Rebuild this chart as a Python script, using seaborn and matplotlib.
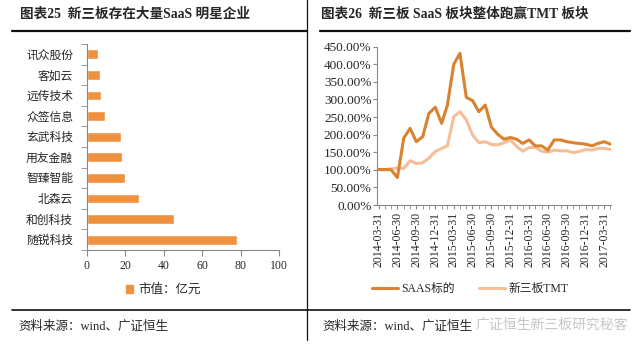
import pandas as pd
import matplotlib.pyplot as plt
import matplotlib.patches as mpatches
from matplotlib.lines import Line2D
import seaborn as sns

# left panel: market value of SaaS companies (100m yuan)
companies = ['讯众股份', '客如云', '远传技术', '众签信息', '玄武科技',
             '用友金融', '智臻智能', '北森云', '和创科技', '随锐科技']
market_value = [5.6, 6.6, 7.5, 9.4, 17.7, 18.2, 19.6, 27.1, 45.3, 78.1]

# right panel: index performance, monthly 2014-03-31 .. 2017-04-30
dates = pd.date_range('2014-03-31', periods=38, freq='ME')
saas = [101, 101, 100, 78, 190, 218, 180, 194, 260, 278, 232, 284, 400, 431,
        306, 297, 265, 284, 221, 201, 187, 192, 187, 175, 185, 168, 168, 156,
        185, 185, 180, 177, 175, 173, 168, 175, 180, 173]
tmt = [100, 100, 103, 105, 104, 126, 118, 120, 133, 152, 161, 168, 251, 265,
       242, 199, 177, 180, 172, 171, 177, 185, 166, 153, 163, 164, 153, 150,
       156, 154, 154, 149, 152, 158, 156, 161, 161, 158]

sns.set_style('white')
plt.rcParams['font.family'] = ['Liberation Serif', 'Noto Sans CJK SC']

fig = plt.figure(figsize=(6.4, 3.53), dpi=100)
W, H = 640, 353

def fx(px):
    return px / W

def fy(py):
    return 1 - py / H

#frame lines of the report page
black = '#111111'
fig.add_artist(Line2D([fx(12), fx(307)], [fy(31), fy(31)], color=black, lw=1.6))
fig.add_artist(Line2D([fx(320), fx(630)], [fy(31), fy(31)], color=black, lw=1.6))
fig.add_artist(Line2D([fx(12), fx(630)], [fy(310), fy(310)], color=black, lw=1.2))
fig.add_artist(Line2D([fx(307), fx(307)], [fy(0), fy(340)], color=black, lw=0.9))

fig.text(fx(20), fy(14), '图表25  新三板存在大量SaaS 明星企业', fontsize=9.8,
         fontweight='bold', va='center', ha='left')
fig.text(fx(321), fy(14), '图表26  新三板 SaaS 板块整体跑赢TMT 板块', fontsize=9.8,
         fontweight='bold', va='center', ha='left')
fig.text(fx(18), fy(327), '资料来源：wind、广证恒生', fontsize=9, va='center', ha='left')
fig.text(fx(322), fy(327), '资料来源：wind、广证恒生', fontsize=9, va='center', ha='left')
fig.text(fx(476), fy(325), '广证恒生新三板研究秘客', fontsize=10, va='center', ha='left',
         color='#b8b8b8', alpha=0.8)

# ---- left bar chart ----
bar_color = '#F0913F'
ax1 = fig.add_axes([fx(87), fy(250), fx(279) - fx(87), fy(44) - fy(250)])
bars = pd.DataFrame({'company': companies, 'value': market_value})
sns.barplot(data=bars, x='value', y='company', orient='h', color=bar_color,
            width=0.47, saturation=1, ax=ax1)
ax1.set_xlim(0, 100)
ax1.set_xticks([0, 20, 40, 60, 80, 100])
ax1.set_xlabel('')
ax1.set_ylabel('')
ax1.set_yticks(range(len(companies)))
ax1.set_yticklabels(companies, fontsize=8.5)
ax1.set_yticks([i + 0.5 for i in range(-1, len(companies))], minor=True)
ax1.tick_params(axis='y', which='major', length=0, pad=10)
ax1.tick_params(axis='y', which='minor', length=4, color='#888888', direction='out')
ax1.tick_params(axis='x', length=4, color='#888888', direction='out', labelsize=8.5)
ax1.yaxis.set_tick_params(which='minor', left=True)
ax1.xaxis.set_tick_params(bottom=True)
for s in ['top', 'right']:
    ax1.spines[s].set_visible(False)
for s in ['left', 'bottom']:
    ax1.spines[s].set_color('#888888')
    ax1.spines[s].set_linewidth(0.8)
fig.legend(handles=[mpatches.Patch(color=bar_color, label='市值：亿元')],
           loc='center', bbox_to_anchor=(fx(163), fy(290)), frameon=False,
           fontsize=9, handlelength=0.6, handleheight=0.6, handletextpad=0.4)

# ---- right line chart ----
saas_color = '#D9822F'
tmt_color = '#F6BE98'
ax2 = fig.add_axes([fx(377), fy(205), fx(611) - fx(377), fy(46.7) - fy(205)])
lines = pd.DataFrame({
    'date': list(dates) * 2,
    'value': saas + tmt,
    'series': ['SAAS标的'] * len(dates) + ['新三板TMT'] * len(dates),
})
sns.lineplot(data=lines, x='date', y='value', hue='series',
             palette={'SAAS标的': saas_color, '新三板TMT': tmt_color},
             hue_order=['新三板TMT', 'SAAS标的'], linewidth=2.2, ax=ax2, legend=False)
ax2.set_ylim(0, 450)
ax2.set_yticks(range(0, 451, 50))
ax2.set_yticklabels(['{:.2f}%'.format(v) for v in range(0, 451, 50)], fontsize=9.5)
ax2.set_xlim(dates[0] - pd.Timedelta(days=8), dates[-1] + pd.Timedelta(days=3))
ax2.set_xticks(dates[::3])
ax2.set_xticklabels([d.strftime('%Y-%m-%d') for d in dates[::3]], rotation=90, fontsize=8.5)
ax2.set_xticks(dates, minor=True)
ax2.set_xlabel('')
ax2.set_ylabel('')
ax2.tick_params(axis='x', which='both', length=3, color='#888888', direction='out', pad=2)
ax2.tick_params(axis='y', length=3, color='#888888', direction='out', pad=1)
ax2.xaxis.set_tick_params(which='both', bottom=True)
ax2.yaxis.set_tick_params(left=True)
for s in ['top', 'right']:
    ax2.spines[s].set_visible(False)
for s in ['left', 'bottom']:
    ax2.spines[s].set_color('#888888')
    ax2.spines[s].set_linewidth(0.8)

handles = [Line2D([0], [0], color=saas_color, lw=2.2, label='SAAS标的'),
           Line2D([0], [0], color=tmt_color, lw=2.2, label='新三板TMT')]
fig.legend(handles=handles, loc='center', bbox_to_anchor=(fx(470), fy(289)), ncol=2,
           frameon=False, fontsize=8.5, handlelength=2.2, columnspacing=2.0,
           handletextpad=0.3)

plt.savefig('out.png', dpi=100)
